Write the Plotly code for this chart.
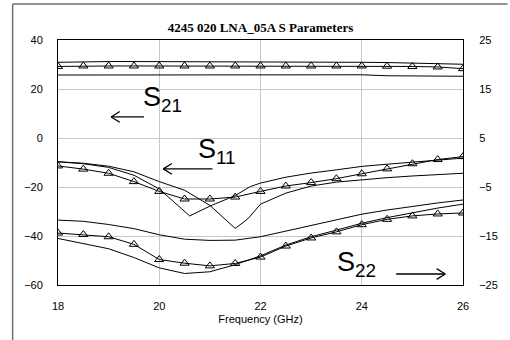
import plotly.graph_objects as go

# ---------------- data ----------------
freq = [18, 18.5, 19, 19.5, 20, 20.5, 21, 21.5, 22, 22.5, 23, 23.5, 24, 24.5, 25, 25.5, 26]

# S21 (left axis, dB)
s21_meas = [29.2, 29.4, 29.4, 29.4, 29.4, 29.4, 29.4, 29.4, 29.4, 29.4, 29.4, 29.4, 29.4, 29.3, 29.2, 29.0, 28.3]
s21_hi = [30.9, 31.1, 31.2, 31.2, 31.2, 31.2, 31.2, 31.2, 31.2, 31.1, 31.1, 31.0, 30.9, 30.8, 30.6, 30.4, 30.1]
s21_lo = [25.7, 25.7, 25.7, 26.0, 26.0, 26.0, 26.0, 26.0, 26.0, 25.8, 25.8, 25.8, 25.8, 25.4, 25.4, 25.3, 25.2]

# S11 (left axis, dB)
s11_meas = [-11.4, -12.7, -14.4, -17.8, -21.8, -24.9, -24.9, -24.1, -21.8, -19.6, -18.2, -16.6, -14.6, -12.6, -10.5, -8.8, -7.6]
s11_a_freq = [18, 18.5, 19, 19.5, 20, 20.6, 21, 21.5, 21.8, 22, 22.5, 23, 23.5, 24, 24.5, 25, 25.5, 26]
s11_a = [-9.7, -10.5, -12.0, -15.2, -20.8, -31.8, -27.8, -23.5, -19.8, -18.4, -16.0, -14.3, -13.0, -11.6, -10.7, -9.9, -9.0, -8.2]
s11_b_freq = [18, 18.5, 19, 19.5, 20, 20.5, 21, 21.5, 21.75, 22, 22.5, 23, 23.5, 24, 24.5, 25, 25.5, 26]
s11_b = [-9.7, -10.3, -11.5, -13.8, -17.8, -21.3, -27.5, -36.9, -33.0, -27.0, -22.5, -19.6, -18.0, -17.0, -16.2, -15.5, -14.9, -14.4]

# S22 (right axis, dB)
s22_meas = [-14.4, -14.7, -15.15, -16.7, -19.8, -20.55, -21.1, -20.6, -19.3, -17.05, -15.4, -14.15, -12.7, -11.6, -10.9, -10.5, -10.3]
s22_hi = [-11.75, -12.0, -12.65, -13.5, -14.75, -15.65, -15.9, -15.85, -15.15, -14.0, -12.9, -11.7, -10.55, -9.7, -8.95, -8.25, -7.65]
s22_lo = [-15.5, -16.5, -17.6, -19.4, -21.5, -22.65, -22.3, -20.85, -19.05, -16.85, -15.15, -13.8, -12.4, -11.25, -10.2, -9.3, -8.5]

x_ticks = [18, 20, 22, 24, 26]
y_left_ticks = [-60, -40, -20, 0, 20, 40]
y_right_ticks = [-25, -15, -5, 5, 15, 25]

# ---------------- figure ----------------
fig = go.Figure()
line = dict(color="black", width=1)
mk = dict(symbol="triangle-up-open", size=8, color="black", line=dict(color="black", width=1))

def plain(x, y, axis="y"):
    fig.add_trace(go.Scatter(x=x, y=y, mode="lines", line=line, yaxis=axis, showlegend=False, hoverinfo="skip"))

def meas(x, y, axis="y"):
    fig.add_trace(go.Scatter(x=x, y=y, mode="lines+markers", line=line, marker=mk, yaxis=axis, showlegend=False, hoverinfo="skip"))

plain(freq, s21_hi); plain(freq, s21_lo); meas(freq, s21_meas)
plain(s11_a_freq, s11_a); plain(s11_b_freq, s11_b); meas(freq, s11_meas)
plain(freq, s22_hi, "y2"); plain(freq, s22_lo, "y2"); meas(freq, s22_meas, "y2")

font = "Liberation Sans, Arial, sans-serif"
axis_common = dict(showline=True, linecolor="black", linewidth=1, ticks="",
                   tickfont=dict(family=font, size=11, color="black"), zeroline=False)

fig.update_layout(
    width=510, height=340,
    margin=dict(l=58, r=41, t=40, b=55),
    paper_bgcolor="white", plot_bgcolor="white",
    title=dict(text="<b>4245 020 LNA_05A S Parameters</b>", x=0.5, xref="paper", xanchor="center",
               y=0.918, yanchor="middle",
               font=dict(family="Liberation Serif, Times New Roman, serif", size=13, color="black")),
    xaxis=dict(range=[18, 26], tickvals=x_ticks, showgrid=True, gridcolor="#c8c8c8", gridwidth=1,
               mirror=True, ticklabelstandoff=11,
               title=dict(text="Frequency (GHz)", standoff=4, font=dict(family=font, size=11, color="black")),
               **axis_common),
    yaxis=dict(range=[-60, 40], tickvals=y_left_ticks, showgrid=True, gridcolor="#c8c8c8", gridwidth=1,
               ticklabelstandoff=12, **axis_common),
    yaxis2=dict(range=[-25, 25], tickvals=y_right_ticks, overlaying="y", side="right", showgrid=False,
                ticklabelstandoff=13, **axis_common),
)

# outer frame (left and top grey lines)
fig.add_shape(type="line", xref="paper", yref="paper", x0=-0.112, x1=-0.112, y0=1.147, y1=-0.23,
              line=dict(color="#707070", width=1.5))
fig.add_shape(type="line", xref="paper", yref="paper", x0=-0.112, x1=1.11, y0=1.147, y1=1.147,
              line=dict(color="#707070", width=1.5))

lab = dict(family=font, size=27, color="black")
fig.add_annotation(x=19.63, y=16.0, xref="x", yref="y", text="S<sub>21</sub>", showarrow=False,
                   xanchor="left", yanchor="middle", font=lab)
fig.add_annotation(x=20.72, y=-5.5, xref="x", yref="y", text="S<sub>11</sub>", showarrow=False,
                   xanchor="left", yanchor="middle", font=lab)
fig.add_annotation(x=23.48, y=-51.5, xref="x", yref="y", text="S<sub>22</sub>", showarrow=False,
                   xanchor="left", yanchor="middle", font=lab)

# arrows drawn as line shapes (shaft + open chevron head)
def arrow(x_head, x_tail, yv):
    sgn = 1 if x_tail > x_head else -1
    back = 0.17 * sgn
    half = 2.2
    ln = dict(color="black", width=1.3)
    fig.add_shape(type="line", xref="x", yref="y", x0=x_tail, x1=x_head, y0=yv, y1=yv, line=ln)
    fig.add_shape(type="line", xref="x", yref="y", x0=x_head + back, x1=x_head, y0=yv + half, y1=yv, line=ln)
    fig.add_shape(type="line", xref="x", yref="y", x0=x_head + back, x1=x_head, y0=yv - half, y1=yv, line=ln)

arrow(19.05, 19.7, 8.6)
arrow(20.08, 21.05, -12.6)
arrow(25.65, 24.68, -55.5)

fig.write_html("out.html")
